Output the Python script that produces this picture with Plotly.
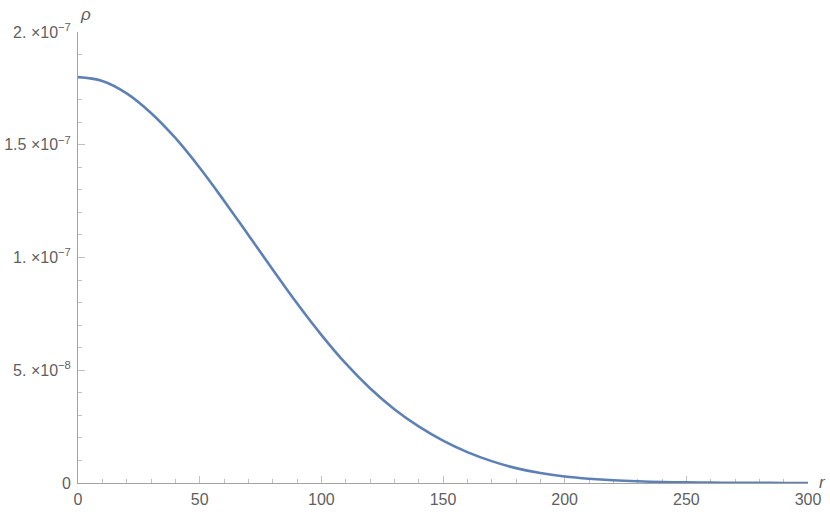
import plotly.graph_objects as go

# radial coordinate r and density rho
r_vals = [0, 10, 20, 30, 40, 50, 60, 70, 80, 90, 100, 110, 120, 130, 140, 150,
          160, 170, 180, 190, 200, 210, 220, 230, 240, 250, 260, 270, 280, 290, 300]
rho_vals = [1.800e-7, 1.783e-7, 1.728e-7, 1.641e-7, 1.530e-7, 1.398e-7, 1.252e-7,
            1.100e-7, 0.947e-7, 0.797e-7, 0.657e-7, 0.530e-7, 0.420e-7, 0.327e-7,
            0.251e-7, 0.188e-7, 0.137e-7, 0.097e-7, 0.066e-7, 0.044e-7, 0.029e-7,
            0.019e-7, 0.012e-7, 0.0075e-7, 0.0045e-7, 0.0027e-7, 0.0016e-7,
            0.0009e-7, 0.0005e-7, 0.0003e-7, 0.0002e-7]

x_tick_vals = [0, 50, 100, 150, 200, 250, 300]
x_tick_text = ["0", "50", "100", "150", "200", "250", "300"]
y_tick_vals = [0, 5e-8, 1e-7, 1.5e-7, 2e-7]
y_tick_text = ["0", "5. ×10<sup>−8</sup>", "1. ×10<sup>−7</sup>",
               "1.5 ×10<sup>−7</sup>", "2. ×10<sup>−7</sup>"]

LABEL = "#5f5f5f"
AXIS = "#a3a3a3"
TICK = "#c0c0c0"
FONT = "Liberation Sans, Arial, sans-serif"
FS = 16

fig = go.Figure()
fig.add_trace(go.Scatter(x=r_vals, y=rho_vals, mode="lines",
                         line=dict(color="#5E81B5", width=2.6, shape="spline", smoothing=1.1),
                         hoverinfo="skip"))

fig.update_layout(
    width=830, height=514, autosize=False,
    margin=dict(l=78, r=22, t=32, b=31, pad=0),
    paper_bgcolor="white", plot_bgcolor="white",
    showlegend=False,
    font=dict(family=FONT, size=FS, color=LABEL),
    xaxis=dict(range=[0, 300], showgrid=False, zeroline=False, automargin=False,
               showline=True, linecolor=AXIS, linewidth=1,
               ticks="inside", ticklen=7, tickcolor=TICK, tickwidth=1,
               tickvals=x_tick_vals, ticktext=x_tick_text,
               tickfont=dict(family=FONT, size=FS, color=LABEL),
               ticklabelstandoff=2,
               minor=dict(ticks="inside", ticklen=4, tickcolor=TICK, dtick=10, tick0=0, showgrid=False),
               layer="below traces"),
    yaxis=dict(range=[0, 2e-7], showgrid=False, zeroline=False, automargin=False,
               showline=True, linecolor=AXIS, linewidth=1,
               ticks="inside", ticklen=7, tickcolor=TICK, tickwidth=1,
               tickvals=y_tick_vals, ticktext=y_tick_text,
               tickfont=dict(family=FONT, size=FS, color=LABEL),
               ticklabelstandoff=3,
               minor=dict(ticks="inside", ticklen=4, tickcolor=TICK, dtick=1e-8, tick0=0, showgrid=False),
               layer="below traces"),
    annotations=[
        dict(x=0, y=2e-7, xref="x", yref="y", text="<i>ρ</i>", showarrow=False,
             xanchor="left", yanchor="bottom", xshift=0, yshift=6,
             font=dict(family=FONT, size=17, color=LABEL)),
        dict(x=300, y=0, xref="x", yref="y", text="<i>r</i>", showarrow=False,
             xanchor="left", yanchor="middle", xshift=9, yshift=1,
             font=dict(family=FONT, size=17, color=LABEL)),
    ],
)

fig.write_html("out.html", config={"displayModeBar": False},
               post_script="document.body.style.margin='0';document.body.style.overflow='hidden';")
